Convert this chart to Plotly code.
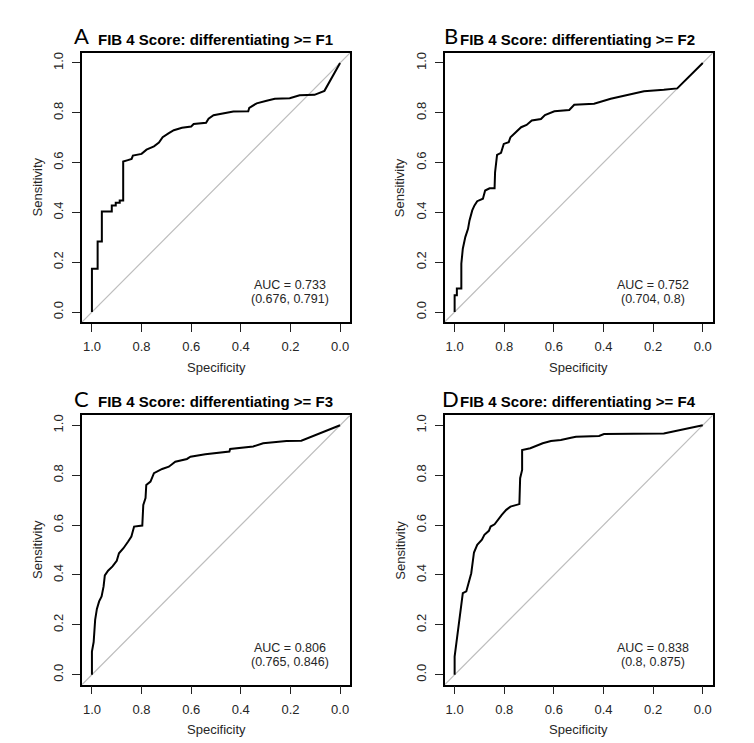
import plotly.graph_objects as go

# ---------------- data ----------------
panel_letters = ["A", "B", "C", "D"]
panel_titles = [
    "FIB 4 Score: differentiating >= F1",
    "FIB 4 Score: differentiating >= F2",
    "FIB 4 Score: differentiating >= F3",
    "FIB 4 Score: differentiating >= F4",
]
auc_labels = ["AUC = 0.733", "AUC = 0.752", "AUC = 0.806", "AUC = 0.838"]
ci_labels = ["(0.676, 0.791)", "(0.704, 0.8)", "(0.765, 0.846)", "(0.8, 0.875)"]

spec_A = [1.0, 1.0, 0.977, 0.977, 0.960, 0.960, 0.920, 0.920, 0.904, 0.904, 0.888, 0.888, 0.874, 0.874,
          0.855, 0.840, 0.835, 0.800, 0.780, 0.750, 0.730, 0.715, 0.690, 0.670, 0.637, 0.600, 0.590,
          0.540, 0.530, 0.510, 0.430, 0.370, 0.366, 0.336, 0.296, 0.263, 0.203, 0.163, 0.103, 0.063, 0.0]
sens_A = [0.0, 0.174, 0.174, 0.283, 0.283, 0.404, 0.404, 0.428, 0.428, 0.439, 0.439, 0.448, 0.448, 0.604,
          0.610, 0.615, 0.628, 0.635, 0.652, 0.665, 0.680, 0.702, 0.718, 0.730, 0.740, 0.745, 0.755,
          0.760, 0.776, 0.790, 0.805, 0.806, 0.820, 0.838, 0.848, 0.856, 0.858, 0.870, 0.872, 0.888, 1.0]

spec_B = [1.0, 1.0, 0.991, 0.991, 0.973, 0.973, 0.967, 0.957, 0.946, 0.940, 0.929, 0.920, 0.909, 0.886,
          0.877, 0.859, 0.839, 0.837, 0.829, 0.813, 0.802, 0.782, 0.775, 0.752, 0.732, 0.710, 0.689,
          0.652, 0.636, 0.598, 0.538, 0.518, 0.438, 0.371, 0.290, 0.237, 0.157, 0.103, 0.0]
sens_B = [0.0, 0.067, 0.067, 0.094, 0.094, 0.194, 0.254, 0.301, 0.334, 0.368, 0.408, 0.428, 0.445, 0.455,
          0.488, 0.497, 0.497, 0.561, 0.631, 0.639, 0.675, 0.682, 0.702, 0.722, 0.742, 0.751, 0.769,
          0.775, 0.791, 0.806, 0.811, 0.832, 0.836, 0.856, 0.876, 0.886, 0.892, 0.898, 1.0]

spec_C = [1.0, 1.0, 0.993, 0.987, 0.980, 0.971, 0.961, 0.953, 0.948, 0.935, 0.917, 0.900, 0.891, 0.873,
          0.854, 0.841, 0.830, 0.797, 0.793, 0.784, 0.781, 0.764, 0.750, 0.717, 0.690, 0.664, 0.617,
          0.603, 0.543, 0.446, 0.443, 0.350, 0.310, 0.216, 0.156, 0.0]
sens_C = [0.0, 0.093, 0.131, 0.220, 0.264, 0.294, 0.314, 0.354, 0.398, 0.417, 0.434, 0.457, 0.487, 0.507,
          0.534, 0.554, 0.594, 0.598, 0.681, 0.708, 0.761, 0.774, 0.808, 0.825, 0.834, 0.854, 0.865,
          0.874, 0.884, 0.895, 0.905, 0.915, 0.928, 0.937, 0.938, 1.0]

spec_D = [1.0, 1.0, 0.993, 0.987, 0.980, 0.973, 0.967, 0.953, 0.946, 0.933, 0.922, 0.909, 0.890, 0.880,
          0.862, 0.855, 0.839, 0.826, 0.810, 0.792, 0.775, 0.739, 0.736, 0.728, 0.728, 0.695, 0.668,
          0.645, 0.612, 0.572, 0.531, 0.511, 0.418, 0.398, 0.157, 0.0]
sens_D = [0.0, 0.073, 0.127, 0.174, 0.214, 0.274, 0.327, 0.334, 0.360, 0.407, 0.490, 0.521, 0.541, 0.561,
          0.577, 0.594, 0.603, 0.621, 0.641, 0.661, 0.674, 0.684, 0.788, 0.821, 0.901, 0.908, 0.919,
          0.928, 0.937, 0.941, 0.950, 0.954, 0.957, 0.965, 0.967, 1.0]

tick_vals = [0.0, 0.2, 0.4, 0.6, 0.8, 1.0]
tick_text = ["0.0", "0.2", "0.4", "0.6", "0.8", "1.0"]
axis_range = [-0.04, 1.04]

spec_all = [spec_A, spec_B, spec_C, spec_D]
sens_all = [sens_A, sens_B, sens_C, sens_D]

# ---------------- layout helpers ----------------
# the page body has an 8px margin, so the figure is drawn 8px in from the window corner
OFF = 8
W, H = 754 - OFF, 743 - OFF
def px(x):
    return (x - OFF) / W
def py(y):
    return 1 - (y - OFF) / H

# plot-area pixel boxes in window coordinates (left, right, top, bottom)
boxes = [(82, 350, 53, 322), (444.7, 712.7, 53, 322),
         (82, 350, 415.3, 684.7), (444.7, 712.7, 415.3, 684.7)]

AX_FONT = "Liberation Sans, Arial, sans-serif"
TXT = "#262626"

fig = go.Figure()
annotations = []

for i in range(4):
    n = "" if i == 0 else str(i + 1)
    xa, ya = "x" + n, "y" + n
    # diagonal reference line
    fig.add_trace(go.Scatter(x=[axis_range[1], axis_range[0]], y=[axis_range[0], axis_range[1]],
                             mode="lines", line=dict(color="#BDBDBD", width=1.2),
                             xaxis=xa, yaxis=ya, showlegend=False, hoverinfo="skip"))
    # ROC curve
    fig.add_trace(go.Scatter(x=spec_all[i], y=sens_all[i], mode="lines",
                             line=dict(color="black", width=2),
                             xaxis=xa, yaxis=ya, showlegend=False))
    l, r, t, b = boxes[i]
    common = dict(tickvals=tick_vals, ticktext=tick_text, ticks="outside", ticklen=8,
                  tickwidth=1.2, tickcolor="#222", showline=True, linecolor="black", linewidth=1.5,
                  mirror=True, showgrid=False, zeroline=False,
                  tickfont=dict(family=AX_FONT, size=13, color=TXT), ticklabelstandoff=4)
    xcfg = dict(common)
    xcfg.update(range=[axis_range[1], axis_range[0]], domain=[px(l), px(r)], anchor=ya)
    ycfg = dict(common)
    ycfg.update(range=axis_range, domain=[py(b), py(t)], anchor=xa, tickangle=-90)
    fig.layout["xaxis" + n] = xcfg
    fig.layout["yaxis" + n] = ycfg

    cx = (l + r) / 2
    cy = (t + b) / 2
    # panel letter
    letter_x = l - 0.3 if i % 2 == 0 else l + 6
    annotations.append(dict(text=panel_letters[i], x=px(letter_x), y=py(t - 17), xref="paper", yref="paper",
                            xanchor="center", yanchor="middle", showarrow=False,
                            font=dict(family="Lato, Noto Sans, sans-serif", size=22, color="black")))
    # title
    title_cx = 215.3 if i % 2 == 0 else 577.8
    annotations.append(dict(text="<b>" + panel_titles[i] + "</b>", x=px(title_cx), y=py(t - 14),
                            xref="paper", yref="paper", xanchor="center", yanchor="middle", showarrow=False,
                            font=dict(family=AX_FONT, size=15, color="black")))
    # axis titles
    annotations.append(dict(text="Specificity", x=px(cx), y=py(b + 45), xref="paper", yref="paper",
                            xanchor="center", yanchor="middle", showarrow=False,
                            font=dict(family=AX_FONT, size=13, color=TXT)))
    annotations.append(dict(text="Sensitivity", x=px(l - 45), y=py(cy), xref="paper", yref="paper",
                            xanchor="center", yanchor="middle", showarrow=False, textangle=-90,
                            font=dict(family=AX_FONT, size=13, color=TXT)))
    # AUC text
    annotations.append(dict(text=auc_labels[i], x=0.2, y=0.107, xref=xa, yref=ya,
                            xanchor="center", yanchor="middle", showarrow=False,
                            font=dict(family=AX_FONT, size=12.5, color=TXT)))
    annotations.append(dict(text=ci_labels[i], x=0.2, y=0.053, xref=xa, yref=ya,
                            xanchor="center", yanchor="middle", showarrow=False,
                            font=dict(family=AX_FONT, size=12.5, color=TXT)))

fig.update_layout(width=W, height=H, margin=dict(l=0, r=0, t=0, b=0),
                  paper_bgcolor="white", plot_bgcolor="white",
                  annotations=annotations, showlegend=False)

fig.write_html("out.html")
